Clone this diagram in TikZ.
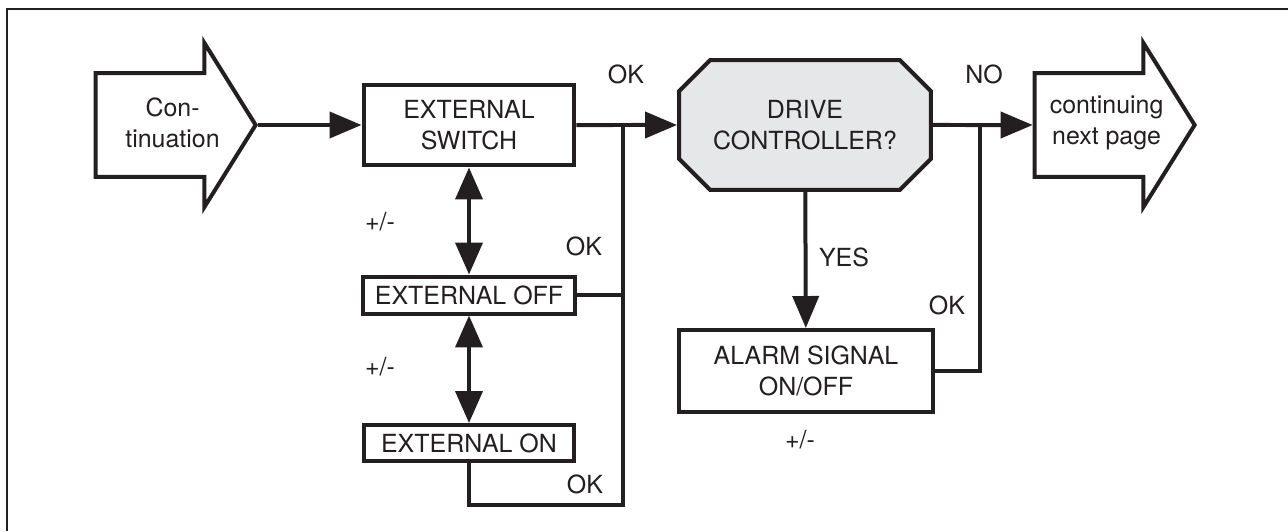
\documentclass[tikz,border=0pt]{standalone}
\usepackage{fontspec}
\setmainfont{TeX Gyre Heros}
\usepackage{xcolor}
\usepackage{tikz}
\usetikzlibrary{shapes,arrows.meta,positioning,calc}
\definecolor{ink}{HTML}{231F20}
\definecolor{querygray}{HTML}{E6E7E8}

\begin{document}
\begin{tikzpicture}[
    x=0.02cm, y=-0.02cm,
    every node/.style={text=ink},
    font=\fontsize{14.2}{18}\selectfont,
    box/.style={rectangle, draw=ink, line width=0.08cm, align=center, fill=white, inner sep=0pt},
    bigarrow/.style={single arrow, draw=ink, line width=0.08cm, inner sep=0pt, minimum width=3.2cm, minimum height=3.2cm, single arrow head extend=0.6cm, single arrow tip angle=116},
    query/.style={chamfered rectangle, chamfered rectangle xsep=0.76cm, draw=ink, line width=0.08cm, align=center, fill=querygray, inner sep=0pt},
    line/.style={draw=ink, line width=0.08cm},
    arr/.style={line, -{Triangle[length=0.64cm, width=0.52cm]}},
    dblarr/.style={line, {Triangle[length=0.64cm, width=0.54cm]}-{Triangle[length=0.64cm, width=0.54cm]}},
    lbl/.style={inner sep=0pt, align=center}
]
\useasboundingbox (0,0) rectangle (1288,531);

% Frame
\draw[draw=ink, line width=0.04cm] (7,531) -- (7,9) -- (1288,9);

% Blocks
\node[bigarrow, anchor=tip] (cont) at (258,125) {\rule{0pt}{2cm}};
\node[lbl] (conttext) at ($(cont.tail)!0.48!(cont.tip)+(0,-2)$) {Con-\\tinuation};
\node[box, minimum width=4.22cm, minimum height=1.62cm] (extsw) at (469,125) {EXTERNAL\\SWITCH};
\node[box, minimum width=4.24cm, minimum height=0.74cm] (extoff) at (469,295) {EXTERNAL OFF};
\node[box, minimum width=4.22cm, minimum height=0.72cm] (exton) at (469,443) {EXTERNAL ON};
\node[query, minimum width=5.04cm, minimum height=2.6cm] (drive) at (805,125) {DRIVE\\CONTROLLER?};
\node[box, minimum width=5.1cm, minimum height=1.64cm] (alarm) at (806,371) {ALARM SIGNAL\\ON/OFF};
\node[bigarrow, anchor=tip] (next) at (1197,125) {\rule{0pt}{2cm}};
\node[lbl] (nexttext) at ($(next.tail)!0.45!(next.tip)+(0,-2)$) {continuing\\next page};

% Junctions
\coordinate (j1) at (623,125);
\coordinate (j1b) at (623,505);
\coordinate (j2) at (980,125);

% Labels
\node[lbl] (okmain) at (626,74) {OK};
\node[lbl] (okoff) at (584,246) {OK};
\node[lbl] (okon) at (585,484) {OK};
\node[lbl] (no) at (984,74) {NO};
\node[lbl] (yes) at (844,257) {YES};
\node[lbl] (okalarm) at (947,305) {OK};
\node[lbl] (pm1) at (380,222) {+/-};
\node[lbl] (pm2) at (380,367) {+/-};
\node[lbl] (pm3) at (800,440) {+/-};

% Connectors
\draw[arr] (cont.tip) -- (extsw);
\draw[arr] (extsw) -- (drive);
\draw[dblarr] (extsw) -- (extoff);
\draw[dblarr] (extoff) -- (exton);
\draw[line] (extoff.east) -- (extoff.east -| j1);
\draw[line] (exton.south) |- (j1b) -- (j1);
\draw[arr] (drive) -- (next.tail);
\draw[arr] (drive) -- (alarm);
\draw[line] (alarm.east) -| (j2);

\end{tikzpicture}
\end{document}
